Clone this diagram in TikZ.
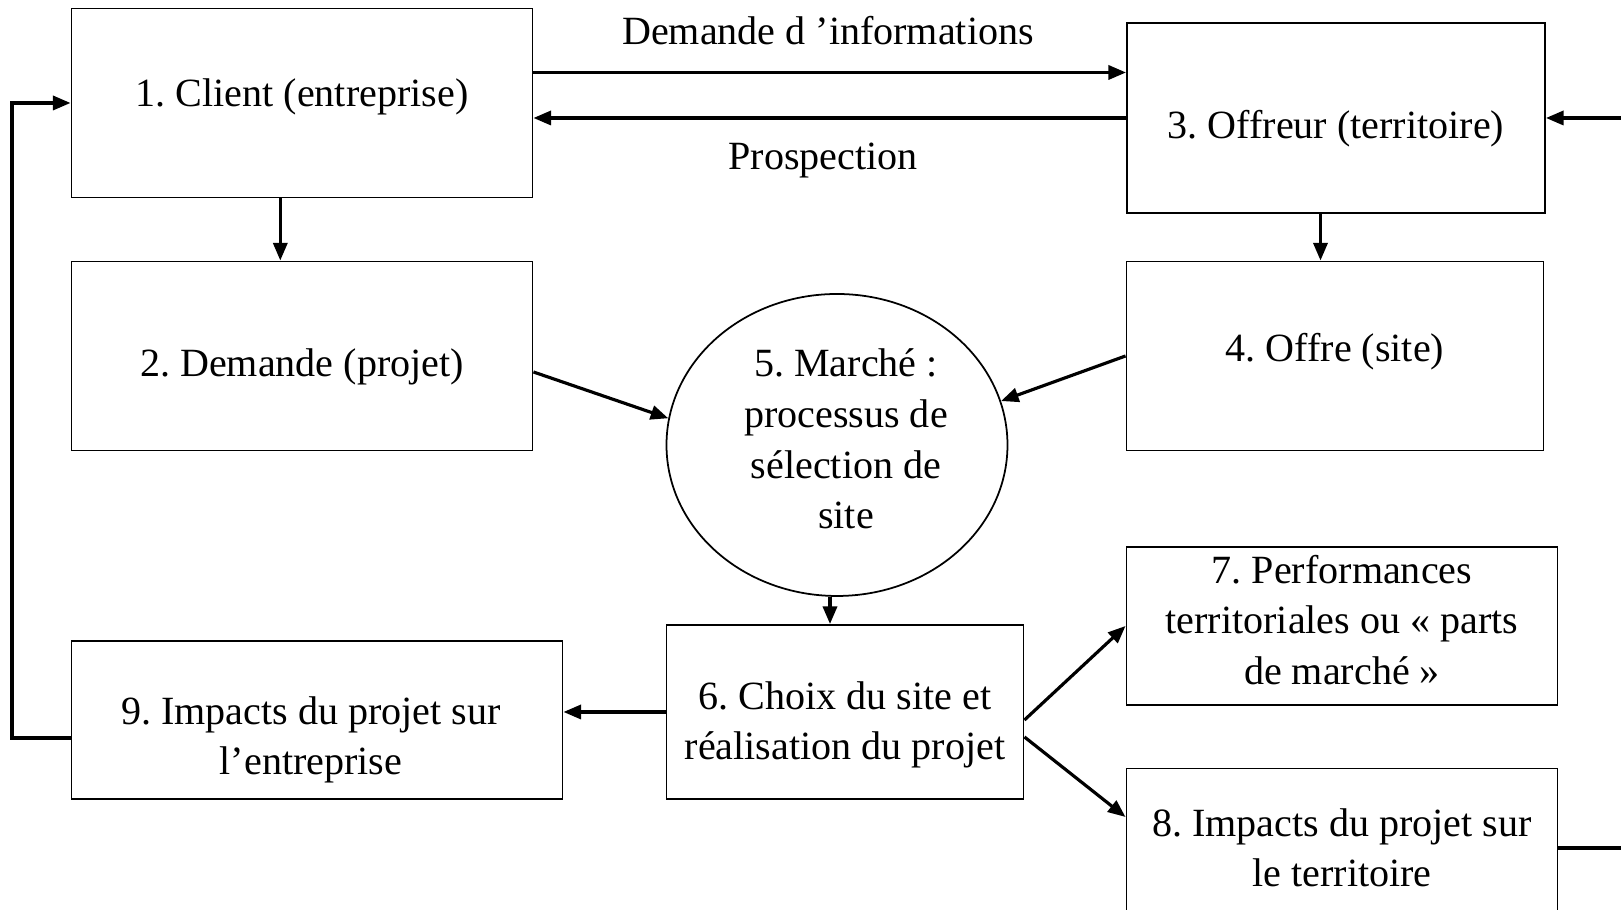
\documentclass[tikz,border=0pt]{standalone}
\usepackage{fontspec}
\setmainfont{Liberation Serif}
\usetikzlibrary{shapes.geometric,arrows.meta}

\tikzset{
  boite/.style={draw, line width=0.55pt, inner sep=0pt},
  txt/.style={align=center, inner sep=0pt},
  fleche/.style={->, line width=0.9pt},
}

\begin{document}
\frenchspacing
\begin{tikzpicture}[>={Triangle[length=5pt,width=4pt]}, font=\fontsize{11.4}{14.4}\selectfont]
    \useasboundingbox (0,0) rectangle (16.21,9.10);

    % boites
    \node[boite, minimum width=4.61cm, minimum height=1.89cm,
          label={[txt, yshift=0.6mm]center:1. Client (entreprise)}] (cli) at (3.02,8.07) {};
    \node[boite, minimum width=4.18cm, minimum height=1.90cm,
          label={[txt, yshift=-1.1mm]center:3. Offreur (territoire)}] (off) at (13.36,7.92) {};
    \node[boite, minimum width=4.61cm, minimum height=1.89cm,
          label={[txt, yshift=-1.1mm]center:2. Demande (projet)}] (dem) at (3.02,5.54) {};
    \node[boite, minimum width=4.17cm, minimum height=1.89cm,
          label={[txt, yshift=0.4mm]center:4. Offre (site)}] (ofr) at (13.35,5.54) {};
    \node[ellipse, draw, line width=0.5pt, inner sep=0pt,
          minimum width=3.41cm, minimum height=3.02cm,
          label={[txt, xshift=0.9mm, yshift=0.6mm]center:5. Marché :\\processus de\\sélection de\\site}] (mar) at (8.37,4.65) {};
    \node[boite, minimum width=3.57cm, minimum height=1.74cm,
          label={[txt, yshift=-1.3mm]center:6. Choix du site et\\réalisation du projet}] (cho) at (8.45,1.98) {};
    \node[boite, minimum width=4.31cm, minimum height=1.58cm,
          label={[txt, yshift=0.6mm]center:7. Performances\\territoriales ou « parts\\de marché »}] (per) at (13.42,2.84) {};
    \node[boite, minimum width=4.31cm, minimum height=1.59cm,
          label={[txt]center:8. Impacts du projet sur\\le territoire}] (imt) at (13.42,0.62) {};
    \node[boite, minimum width=4.91cm, minimum height=1.58cm,
          label={[txt, xshift=-0.6mm, yshift=-2mm]center:9. Impacts du projet sur\\l’entreprise}] (imp) at (3.17,1.90) {};

    % etiquettes
    \node (lbdem) at (8.28,8.79) {Demande d ’informations};
    \node (lbpro) at (8.23,7.49) {Prospection};

    \coordinate (gauche) at (0.12,0);
    \coordinate (droite) at (16.4,0);

    % fleches
    \draw[fleche] ([yshift=3.05mm]cli.east) -- ([yshift=3.05mm]cli.east -| off.west);
    \draw[fleche] (off.west) -- (off.west -| cli.east);
    \draw[fleche] ([xshift=-2.17mm]cli.south) -- ([xshift=-2.17mm]dem.north);
    \draw[fleche] ([xshift=-1.55mm]off.south) -- ([xshift=-1.55mm]off.south |- ofr.north);
    \draw[fleche] ([yshift=-1.6mm]dem.east) -- (mar.171);
    \draw[fleche] (ofr.west) -- (mar.15);
    \draw[fleche] ([xshift=-0.7mm]mar.south) -- ([xshift=-0.7mm]mar.south |- cho.north);
    \draw[fleche] (cho.west) -- (cho.west -| imp.east);
    \draw[fleche] ([yshift=-0.8mm]cho.east) -- (per.west);
    \draw[fleche] ([yshift=-2.5mm]cho.east) -- ([yshift=3.1mm]imt.west);
    \draw[fleche] ([yshift=-1.8mm]imp.west) -| (gauche |- cli.west) -- (cli.west);
    \draw[fleche] (droite |- off.east) -- (off.east);
    \draw[line width=0.9pt] (imt.east) -- (droite |- imt.east);
\end{tikzpicture}
\end{document}
